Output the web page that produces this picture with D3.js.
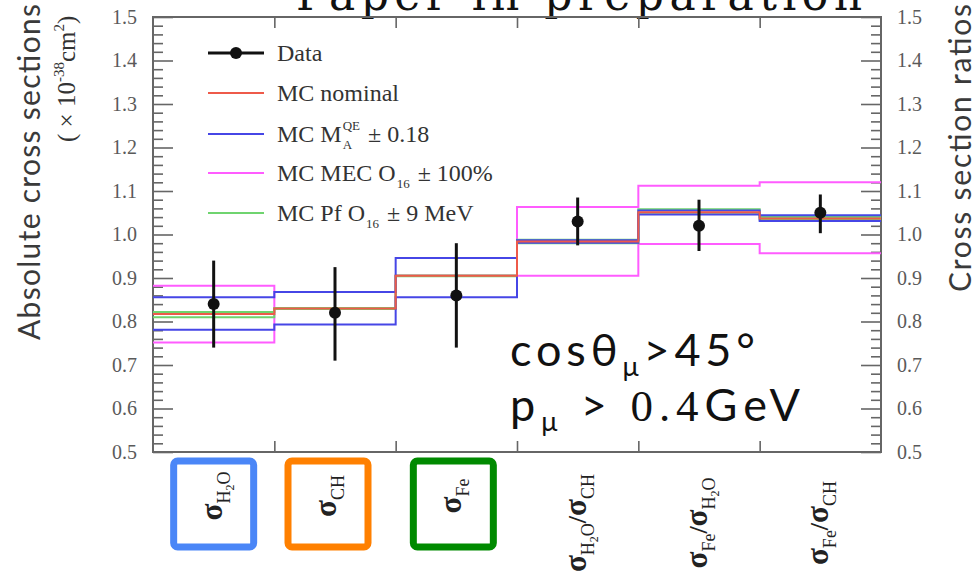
<!DOCTYPE html>
<html>
<head>
<meta charset="utf-8">
<script src="https://cdn.jsdelivr.net/npm/d3@7"></script>
<style>
  html, body { margin: 0; padding: 0; background: #fff; }
  svg { display: block; }
  .serif { font-family: "Liberation Serif", "DejaVu Serif", serif; }
  .sans { font-family: Lato, "Noto Sans", sans-serif; }
</style>
</head>
<body>
<svg id="chart" width="977" height="579"></svg>
<script>
// bins: three absolute cross sections, three ratios
var binLabels = [
  [['σ', 'main'], ['H', 'sub'], ['2', 'subsub'], ['O', 'sub']],
  [['σ', 'main'], ['CH', 'sub']],
  [['σ', 'main'], ['Fe', 'sub']],
  [['σ', 'main'], ['H', 'sub'], ['2', 'subsub'], ['O', 'sub'], ['/', 'slash'], ['σ', 'main'], ['CH', 'sub']],
  [['σ', 'main'], ['Fe', 'sub'], ['/', 'slash'], ['σ', 'main'], ['H', 'sub'], ['2', 'subsub'], ['O', 'sub']],
  [['σ', 'main'], ['Fe', 'sub'], ['/', 'slash'], ['σ', 'main'], ['CH', 'sub']]
];
var boxColors = ['#4a86f7', '#ff8000', '#008a00'];
var boxShift = [0, -7, -3];

var dataVal = [0.84, 0.82, 0.86, 1.03, 1.02, 1.05];
var dataLo  = [0.74, 0.71, 0.74, 0.975, 0.962, 1.003];
var dataHi  = [0.94, 0.925, 0.98, 1.085, 1.08, 1.092];

var mcNominal = [0.817, 0.830, 0.905, 0.984, 1.051, 1.037];
var maUp      = [0.856, 0.868, 0.946, 0.987, 1.046, 1.044];
var maDown    = [0.781, 0.793, 0.856, 0.981, 1.055, 1.031];
var mecUp     = [0.882, 0.830, 0.905, 1.063, 1.112, 1.120];
var mecDown   = [0.752, 0.830, 0.905, 0.905, 0.978, 0.957];
var pfUp      = [0.822, 0.831, 0.906, 0.988, 1.058, 1.040];
var pfDown    = [0.810, 0.829, 0.904, 0.980, 1.050, 1.034];

var yMajor = [0.5, 0.6, 0.7, 0.8, 0.9, 1.0, 1.1, 1.2, 1.3, 1.4, 1.5];

var colors = {
  data: '#111',
  nominal: '#ee5a4a',
  ma: '#4646e6',
  mec: '#ff5cff',
  pf: '#6fd46f'
};

var svg = d3.select('#chart');
var frame = { left: 153, right: 881, top: 17, bottom: 452 };

var x = d3.scaleLinear().domain([0, 6]).range([frame.left, frame.right]);
var y = d3.scaleLinear().domain([0.5, 1.5]).range([frame.bottom, frame.top]);

// "Paper in preparation" banner, cut by the top edge
svg.append('text')
  .attr('x', 296).attr('y', 10)
  .attr('font-family', '"DejaVu Serif", "Liberation Serif", serif')
  .attr('font-size', 44)
  .attr('textLength', 566)
  .attr('lengthAdjust', 'spacing')
  .attr('fill', '#111')
  .text('Paper in preparation');

// axes
var minorTicks = d3.range(0, 51).map(function(i) { return 0.5 + i * 0.02; })
  .filter(function(v) { return Math.abs(Math.round(v * 10) - v * 10) > 1e-6; });

function styleAxis(g) {
  g.select('.domain').remove();
  g.selectAll('.tick line').attr('stroke', '#666').attr('stroke-width', 1.6);
  g.selectAll('.tick text')
    .attr('class', 'serif')
    .attr('font-size', 20)
    .attr('fill', '#5a5a5a');
}

svg.append('g')
  .attr('transform', 'translate(' + frame.left + ',0)')
  .call(d3.axisLeft(y).tickValues(yMajor).tickSize(-20).tickPadding(16).tickFormat(d3.format('.1f')))
  .call(styleAxis);
svg.append('g')
  .attr('transform', 'translate(' + frame.left + ',0)')
  .call(d3.axisLeft(y).tickValues(minorTicks).tickSize(-10).tickFormat(''))
  .call(styleAxis);
svg.append('g')
  .attr('transform', 'translate(' + frame.right + ',0)')
  .call(d3.axisRight(y).tickValues(yMajor).tickSize(-20).tickPadding(16).tickFormat(d3.format('.1f')))
  .call(styleAxis);
svg.append('g')
  .attr('transform', 'translate(' + frame.right + ',0)')
  .call(d3.axisRight(y).tickValues(minorTicks).tickSize(-10).tickFormat(''))
  .call(styleAxis);
svg.append('g')
  .attr('transform', 'translate(0,' + frame.top + ')')
  .call(d3.axisTop(x).tickValues([1, 2, 3, 4, 5]).tickSize(-11).tickFormat(''))
  .call(styleAxis);
svg.append('g')
  .attr('transform', 'translate(0,' + frame.bottom + ')')
  .call(d3.axisBottom(x).tickValues([1, 2, 3, 4, 5]).tickSize(-11).tickFormat(''))
  .call(styleAxis);

svg.append('rect')
  .attr('x', frame.left).attr('y', frame.top)
  .attr('width', frame.right - frame.left).attr('height', frame.bottom - frame.top)
  .attr('fill', 'none').attr('stroke', '#666').attr('stroke-width', 2);

// step histograms
var step = d3.line()
  .x(function(d) { return x(d[0]); })
  .y(function(d) { return y(d[1]); })
  .curve(d3.curveStepAfter);

function histo(vals, color) {
  var pts = vals.map(function(v, i) { return [i, v]; });
  pts.push([vals.length, vals[vals.length - 1]]);
  svg.append('path')
    .attr('d', step(pts))
    .attr('fill', 'none')
    .attr('stroke', color)
    .attr('stroke-width', 2);
}

histo(mecUp, colors.mec);
histo(mecDown, colors.mec);
histo(pfUp, colors.pf);
histo(pfDown, colors.pf);
histo(maUp, colors.ma);
histo(maDown, colors.ma);
histo(mcNominal, colors.nominal);

// data points
var pts = svg.append('g');
dataVal.forEach(function(v, i) {
  var cx = x(i + 0.5);
  pts.append('line')
    .attr('x1', cx).attr('x2', cx)
    .attr('y1', y(dataLo[i])).attr('y2', y(dataHi[i]))
    .attr('stroke', colors.data).attr('stroke-width', 3);
  pts.append('circle')
    .attr('cx', cx).attr('cy', y(v)).attr('r', 6)
    .attr('fill', colors.data);
});

// legend
var legendItems = [
  { key: 'data', parts: [['Data']] },
  { key: 'nominal', parts: [['MC nominal']] },
  { key: 'ma', parts: [['MC M'], ['QE', 'A'], ['± 0.18']] },
  { key: 'mec', parts: [['MC MEC O'], [null, '16'], ['± 100%']] },
  { key: 'pf', parts: [['MC Pf O'], [null, '16'], ['± 9 MeV']] }
];
var legY = [53, 93, 134, 173, 213];

function legendText(xx, yy, str, size) {
  return svg.append('text')
    .attr('class', 'serif')
    .attr('x', xx).attr('y', yy)
    .attr('font-size', size)
    .attr('fill', '#333')
    .text(str);
}

legendItems.forEach(function(item, i) {
  var ly = legY[i];
  svg.append('line')
    .attr('x1', 208).attr('x2', 264).attr('y1', ly).attr('y2', ly)
    .attr('stroke', colors[item.key])
    .attr('stroke-width', item.key === 'data' ? 3 : 2.2);
  if (item.key === 'data') {
    svg.append('circle').attr('cx', 236).attr('cy', ly).attr('r', 6).attr('fill', colors.data);
  }
  var cx = 277, base = ly + 8;
  item.parts.forEach(function(p, j) {
    if (p.length === 1) {
      var t = legendText(cx, base, p[0], 24);
      var next = item.parts[j + 1];
      cx += t.node().getComputedTextLength() + (next && next.length === 2 ? 1 : 7);
    } else {
      var w = 0;
      if (p[0]) {
        var sup = legendText(cx, base - 12, p[0], 13);
        w = sup.node().getComputedTextLength();
      }
      var sub = legendText(cx, base + 7, p[1], 13);
      w = Math.max(w, sub.node().getComputedTextLength());
      cx += w + 8;
    }
  });
});

// axis titles
svg.append('text')
  .attr('class', 'sans')
  .attr('transform', 'translate(40,340) rotate(-90)')
  .attr('font-size', 30)
  .attr('textLength', 336)
  .attr('lengthAdjust', 'spacing')
  .attr('fill', '#3a3a3a')
  .text('Absolute cross sections');

var unit = svg.append('text')
  .attr('class', 'serif')
  .attr('transform', 'translate(75,142) rotate(-90)')
  .attr('font-size', 25)
  .attr('fill', '#333');
unit.append('tspan').text('( × 10');
unit.append('tspan').attr('font-size', 15).attr('dy', -11).text('-38');
unit.append('tspan').attr('dy', 11).text('cm');
unit.append('tspan').attr('font-size', 15).attr('dy', -11).text('2');
unit.append('tspan').attr('dy', 11).text(')');

svg.append('text')
  .attr('class', 'sans')
  .attr('transform', 'translate(971,292) rotate(-90)')
  .attr('font-size', 30)
  .attr('textLength', 288)
  .attr('lengthAdjust', 'spacing')
  .attr('fill', '#3a3a3a')
  .text('Cross section ratios');

// bin labels under the frame
binLabels.forEach(function(parts, i) {
  var cx = x(i + 0.5) + (i < 3 ? boxShift[i] : 0);
  if (i < 3) {
    svg.append('rect')
      .attr('x', cx - 40).attr('y', 461)
      .attr('width', 80).attr('height', 86)
      .attr('rx', 4)
      .attr('fill', 'none')
      .attr('stroke', boxColors[i])
      .attr('stroke-width', 7);
  }
  var cy = i < 3 ? 496 : 523;
  var t = svg.append('text')
    .attr('class', 'serif')
    .attr('transform', 'translate(' + (cx + 8) + ',' + cy + ') rotate(-90)')
    .attr('text-anchor', 'middle')
    .attr('font-weight', 'bold')
    .attr('fill', '#222');
  var level = 0;
  parts.forEach(function(p) {
    var ts = t.append('tspan').text(p[0]);
    var target = 0, size = 31;
    if (p[1] === 'sub') { target = 8; size = 18; }
    if (p[1] === 'subsub') { target = 12; size = 12; }
    if (p[1] === 'slash') { size = 26; }
    ts.attr('font-size', size).attr('dy', target - level);
    if (p[1] === 'sub' || p[1] === 'subsub') ts.attr('font-weight', 'normal');
    level = target;
  });
});

// cut annotation
var ann = svg.append('g').attr('class', 'sans').attr('fill', '#111');
var a1 = ann.append('text').attr('x', 510).attr('y', 366).attr('font-size', 45)
  .attr('textLength', 245).attr('lengthAdjust', 'spacing');
a1.append('tspan').text('cosθ');
a1.append('tspan').attr('font-size', 27).attr('dy', 10).text('μ');
a1.append('tspan').attr('dy', -10).text('>45°');
var a2 = ann.append('text').attr('x', 510).attr('y', 421).attr('font-size', 45)
  .attr('textLength', 290).attr('lengthAdjust', 'spacing');
a2.append('tspan').text('p');
a2.append('tspan').attr('font-size', 27).attr('dy', 10).text('μ');
a2.append('tspan').attr('dy', -10).text(' > ');
a2.append('tspan').attr('font-family', '"Liberation Serif", serif').text('0.4');
a2.append('tspan').text('GeV');
</script>
</body>
</html>
